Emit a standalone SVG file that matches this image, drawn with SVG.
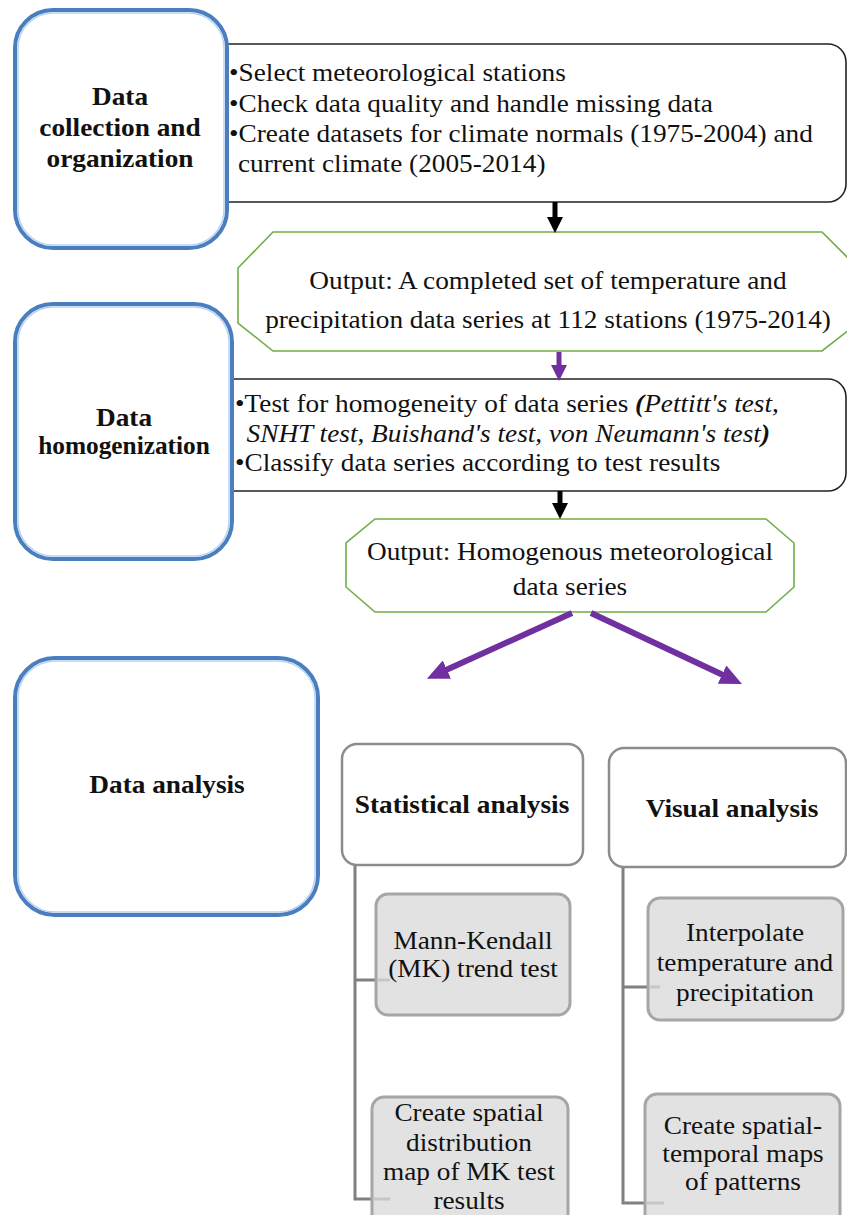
<svg xmlns="http://www.w3.org/2000/svg" width="847" height="1215" viewBox="0 0 847 1215">
<defs>
<style>
.t{font-family:"Liberation Serif","Times New Roman",serif;font-size:26px;fill:#111}
.b{font-weight:bold}
.m{text-anchor:middle}
.i{font-style:italic}
.bi{font-style:italic;font-weight:bold}
.tb{fill:#fff;stroke:#222;stroke-width:1.6}
.blue{fill:#fff;stroke:#4a7ebf;stroke-width:4}
.blue2{fill:none;stroke:#b8d4f2;stroke-width:1.5}
.oct{fill:#fff;stroke:#70ad47;stroke-width:1.6}
.hdr{fill:#fff;stroke:#8c8c8c;stroke-width:2.5}
.sub{fill:#e2e2e2;stroke:#a6a6a6;stroke-width:3}
.con{fill:none;stroke:#808080;stroke-width:3}
.stub{fill:none;stroke:#c6c6c6;stroke-width:3}
.ak{stroke:#000;stroke-width:5;fill:none}
.ap{stroke:#7030a0;stroke-width:5;fill:none}
.apd{stroke:#7030a0;stroke-width:6;fill:none}
</style>
<marker id="hk" markerUnits="userSpaceOnUse" markerWidth="16" markerHeight="16" refX="1" refY="8" orient="auto">
<path d="M0,0 L16,8 L0,16 Z" fill="#000"/>
</marker>
<marker id="hp" markerUnits="userSpaceOnUse" markerWidth="16" markerHeight="16" refX="1" refY="8" orient="auto">
<path d="M0,0 L16,8 L0,16 Z" fill="#7030a0"/>
</marker>
<marker id="hpd" markerUnits="userSpaceOnUse" markerWidth="22" markerHeight="20" refX="1" refY="10" orient="auto">
<path d="M0,0 L22,10 L0,20 Z" fill="#7030a0"/>
</marker>
</defs>

<g id="steps-text">
<g id="box-collection">
<rect class="tb" x="200" y="44" width="646" height="158" rx="18"/>
<text class="t" transform="translate(229,0) scale(1.05,1)"><tspan x="0" y="81">•Select meteorological stations</tspan><tspan x="0" y="112">•Check data quality and handle missing data</tspan><tspan x="0" y="142">•Create datasets for climate normals (1975-2004) and</tspan><tspan x="8.5" y="172">current climate (2005-2014)</tspan></text>
</g>
<g id="box-homog">
<rect class="tb" x="210" y="379" width="636" height="112" rx="18"/>
<text class="t" transform="translate(235,0) scale(1.05,1)"><tspan x="0" y="412">•Test for homogeneity of data series <tspan class="bi">(</tspan><tspan class="i">Pettitt's test,</tspan></tspan><tspan x="11" y="442" class="i">SNHT test, Buishand's test, von Neumann's test<tspan class="bi">)</tspan></tspan><tspan x="0" y="471">•Classify data series according to test results</tspan></text>
</g>
</g>

<g id="stage-collection">
<rect class="blue" x="15" y="10" width="212" height="238" rx="38"/>
<rect class="blue2" x="18" y="13" width="206" height="232" rx="35"/>
<text class="t b m" transform="translate(120,0) scale(1.05,1)"><tspan x="0" y="105">Data</tspan><tspan x="0" y="136">collection and</tspan><tspan x="0" y="167">organization</tspan></text>
</g>
<g id="stage-homog">
<rect class="blue" x="15" y="304" width="217" height="255" rx="38"/>
<rect class="blue2" x="18" y="307" width="211" height="249" rx="35"/>
<text class="t b m" transform="translate(124,0) scale(1.05,1)"><tspan x="0" y="426">Data</tspan></text>
<text class="t b m" transform="translate(124,0) scale(0.975,1)"><tspan x="0" y="454">homogenization</tspan></text>
</g>
<g id="stage-analysis">
<rect class="blue" x="15" y="658" width="303" height="257" rx="40"/>
<rect class="blue2" x="18" y="661" width="297" height="251" rx="37"/>
<text class="t b m" transform="translate(167,0) scale(1.05,1)"><tspan x="0" y="793">Data analysis</tspan></text>
</g>

<g id="output-1">
<polygon class="oct" points="273,232 822,232 858,268 858,323 822,351 273,351 238,323 238,268"/>
<text class="t m" transform="translate(548,0) scale(1.05,1)"><tspan x="0" y="289">Output: A completed set of temperature and</tspan><tspan x="0" y="328">precipitation data series at 112 stations (1975-2014)</tspan></text>
</g>
<g id="output-2">
<polygon class="oct" points="375,519 766,519 794,543 794,587 766,612 375,612 346,587 346,543"/>
<text class="t m" transform="translate(570,0) scale(1.05,1)"><tspan x="0" y="560">Output: Homogenous meteorological</tspan><tspan x="0" y="595">data series</tspan></text>
</g>

<g id="connectors">
<line class="ak" x1="555" y1="202" x2="555" y2="218" marker-end="url(#hk)"/>
<line class="ap" x1="559" y1="352" x2="559" y2="366" marker-end="url(#hp)"/>
<line class="ak" x1="560" y1="491" x2="560" y2="504" marker-end="url(#hk)"/>
<line class="apd" x1="572" y1="613" x2="446" y2="670" marker-end="url(#hpd)"/>
<line class="apd" x1="591" y1="613" x2="723" y2="675" marker-end="url(#hpd)"/>
<path class="con" d="M355,865 V1199 H372 M355,980 H376"/>
<path class="con" d="M623,867 V1203 H645 M623,987 H648"/>
</g>

<g id="stat-analysis">
<rect class="hdr" x="342" y="744" width="241" height="121" rx="15"/>
<text class="t b m" transform="translate(462,0) scale(1.05,1)"><tspan x="0" y="813">Statistical analysis</tspan></text>
</g>
<g id="visual-analysis">
<rect class="hdr" x="609" y="748" width="237" height="119" rx="15"/>
<text class="t b m" transform="translate(732,0) scale(1.05,1)"><tspan x="0" y="817">Visual analysis</tspan></text>
</g>

<g id="mk-test">
<rect class="sub" x="376" y="894" width="194" height="121" rx="12"/>
<line class="stub" x1="377" y1="980" x2="390" y2="980"/>
<text class="t m" transform="translate(473,0) scale(1.05,1)"><tspan x="0" y="949">Mann-Kendall</tspan><tspan x="0" y="977">(MK) trend test</tspan></text>
</g>
<g id="mk-map">
<rect class="sub" x="372" y="1097" width="196" height="130" rx="12"/>
<line class="stub" x1="373" y1="1199" x2="390" y2="1199"/>
<text class="t m" transform="translate(469,0) scale(1.05,1)"><tspan x="0" y="1121">Create spatial</tspan><tspan x="0" y="1151">distribution</tspan><tspan x="0" y="1180">map of MK test</tspan><tspan x="0" y="1209">results</tspan></text>
</g>
<g id="interpolate">
<rect class="sub" x="648" y="898" width="195" height="122" rx="12"/>
<line class="stub" x1="649" y1="987" x2="660" y2="987"/>
<text class="t m" transform="translate(745,0) scale(1.05,1)"><tspan x="0" y="941">Interpolate</tspan><tspan x="0" y="971">temperature and</tspan><tspan x="0" y="1001">precipitation</tspan></text>
</g>
<g id="st-maps">
<rect class="sub" x="645" y="1094" width="195" height="133" rx="12"/>
<line class="stub" x1="646" y1="1203" x2="664" y2="1203"/>
<text class="t m" transform="translate(743,0) scale(1.05,1)"><tspan x="0" y="1134">Create spatial-</tspan><tspan x="0" y="1162">temporal maps</tspan><tspan x="0" y="1190">of patterns</tspan></text>
</g>
</svg>
